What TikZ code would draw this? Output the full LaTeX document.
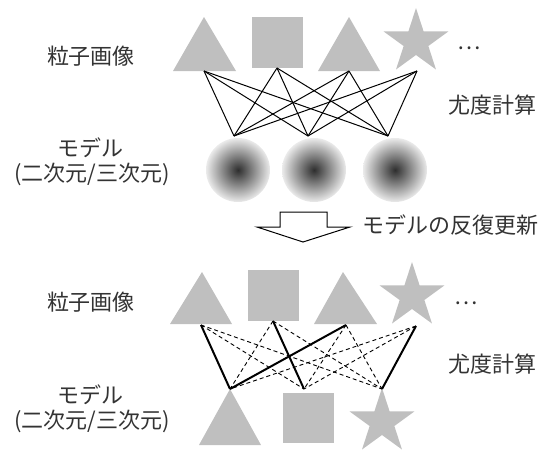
\documentclass[tikz,border=0pt]{standalone}
\usepackage{fontspec}
\newfontfamily\jp{Noto Sans CJK JP}
\definecolor{shp}{HTML}{BFBFBF}
\definecolor{txt}{HTML}{333333}
\newcommand\starat[1]{\fill[shp, shift={#1}] (-90:34) -- (-54:13) -- (-18:34) -- (18:13) -- (54:34) -- (90:13) -- (126:34) -- (162:13) -- (198:34) -- (234:13) -- cycle;}
\begin{document}
\begin{tikzpicture}[x=1pt,y=-1pt,
  lbl/.style={font=\jp\fontsize{22}{26}\selectfont, text=txt, inner sep=0pt},
  link/.style={line width=1pt},
  strong/.style={line width=2pt},
  weak/.style={line width=0.9pt, dash pattern=on 4pt off 3pt},
  blockarrow/.style={draw=black, fill=white, line width=1pt, line join=miter}]
\useasboundingbox (0,0) rectangle (542,450);

% ---------- top half ----------
\fill[shp] (204,17) -- (236,71) -- (173,71) -- cycle;
\fill[shp] (252,17) rectangle (303,68);
\fill[shp] (349,17) -- (380,71) -- (318,71) -- cycle;
\starat{(416,42)}
\node[lbl] (dots1) at (469,48) {…};

\foreach \cx/\n in {238/c1,314/c2,395/c3}{
  \shade[inner color=black!82, outer color=black!8] (\cx,170) circle (32pt);
}

\coordinate (t1) at (204,71);
\coordinate (t2) at (277,68);
\coordinate (t3) at (349,71);
\coordinate (t4) at (417,71);
\coordinate (b1) at (234,136);
\coordinate (b2) at (308,136);
\coordinate (b3) at (388,136);
\foreach \t in {t1,t2,t3,t4}{
  \foreach \b in {b1,b2,b3}{
    \draw[link] (\t) -- (\b);
  }
}

\node[lbl] (img1) at (91,56) {粒子画像};
\node[lbl] (mod1) at (90,148) {モデル};
\node[lbl] (dim1) at (92,174) {(二次元/三次元)};
\node[lbl] (lik1) at (492,105) {尤度計算};

% ---------- arrow ----------
\draw[blockarrow] (280,212) -- (327,212) -- (327,227) -- (350,227) -- (303,242) -- (257,227) -- (280,227) -- cycle;
\node[lbl, anchor=west] (upd) at (362,225) {モデルの反復更新};

% ---------- bottom half ----------
\fill[shp] (202,272) -- (232,324) -- (170,324) -- cycle;
\fill[shp] (248,270) rectangle (299,321);
\fill[shp] (343,272) -- (377,324) -- (314,324) -- cycle;
\starat{(412,296)}
\node[lbl] (dots2) at (466,303) {…};

\fill[shp] (230,389) -- (261,445) -- (199,445) -- cycle;
\fill[shp] (283,393) rectangle (334,443);
\starat{(382,422)}

\coordinate (u1) at (201,325);
\coordinate (u2) at (273,321);
\coordinate (u3) at (346,325);
\coordinate (u4) at (416,326);
\coordinate (v1) at (230,389);
\coordinate (v2) at (304,389);
\coordinate (v3) at (382,389);
\foreach \a/\b in {u1/v2,u1/v3,u2/v1,u2/v3,u3/v2,u3/v3,u4/v1,u4/v2}{
  \draw[weak] (\a) -- (\b);
}
\foreach \a/\b in {u1/v1,u2/v2,u3/v1,u4/v3}{
  \draw[strong] (\a) -- (\b);
}

\node[lbl] (img2) at (91,302) {粒子画像};
\node[lbl] (mod2) at (90,395) {モデル};
\node[lbl] (dim2) at (92,421) {(二次元/三次元)};
\node[lbl] (lik2) at (492,364) {尤度計算};
\end{tikzpicture}
\end{document}
